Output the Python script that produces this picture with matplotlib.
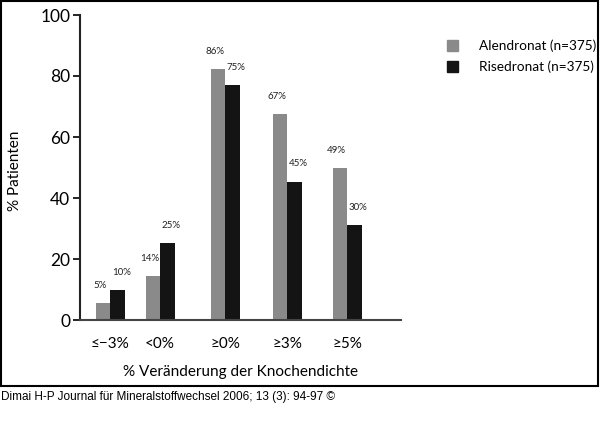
import matplotlib.pyplot as plt
from matplotlib.patches import Rectangle, Patch

# data
categories = ['≤−3%', '<0%', '≥0%', '≥3%', '≥5%']
alendronat = [5.5, 14.4, 82.2, 67.5, 49.8]
risedronat = [9.8, 25.1, 76.9, 45.3, 31.1]
alendronat_labels = ['5%', '14%', '86%', '67%', '49%']
risedronat_labels = ['10%', '25%', '75%', '45%', '30%']
series_names = ['Alendronat (n=375)', 'Risedronat (n=375)']

# layout: group centres (uneven, as in the original)
group_pos = [3.0, 8.0, 14.5, 20.7, 26.7]
width = 1.45
grey = '#8a8a8a'
black = '#141414'

plt.rcParams['font.family'] = ['Lato', 'DejaVu Sans']

fig = plt.figure(figsize=(6, 4.48), dpi=100)
ax = fig.add_axes([80/600, 1 - 320/448, 321/600, 305/448])

xa = [p - width/2 for p in group_pos]
xr = [p + width/2 for p in group_pos]
ax.bar(xa, alendronat, width, color=grey, linewidth=0)
ax.bar(xr, risedronat, width, color=black, linewidth=0)

for x, v, t in zip(xa, alendronat, alendronat_labels):
    ax.annotate(t, (x - 0.3, v), xytext=(0, 13), textcoords='offset points',
                ha='center', va='center', fontsize=7, color='#222222')
for x, v, t in zip(xr, risedronat, risedronat_labels):
    ax.annotate(t, (x + 0.4, v), xytext=(0, 13), textcoords='offset points',
                ha='center', va='center', fontsize=7, color='#222222')

ax.set_xlim(0, 32.1)
ax.set_ylim(0, 100)
ax.set_yticks([0, 20, 40, 60, 80, 100])
ax.set_xticks(group_pos)
ax.set_xticklabels(categories)
ax.tick_params(axis='x', length=0, pad=12, labelsize=11)
ax.tick_params(axis='y', length=5, width=1.2, pad=2, labelsize=12.5)
for s in ['top', 'right']:
    ax.spines[s].set_visible(False)
ax.spines['left'].set_linewidth(1.5)
ax.spines['bottom'].set_linewidth(1.5)
ax.spines['left'].set_color('#222222')
ax.spines['bottom'].set_color('#444444')

ax.set_ylabel('% Patienten', fontsize=11)
ax.yaxis.set_label_coords(-0.18, 0.49)
ax.set_xlabel('% Veränderung der Knochendichte', fontsize=11, labelpad=10)

handles = [Patch(color=grey), Patch(color=black)]
fig.legend(handles, series_names, loc='upper left', bbox_to_anchor=(440/600, 1 - 33/448),
           frameon=False, fontsize=9.8, handlelength=0.85, handleheight=0.85,
           handletextpad=1.5, labelspacing=0.6, borderpad=0)

# frame round the figure, and the source line beneath it
fig.add_artist(Rectangle((0.5/600, 1 - 386/448), 597.5/600, 385/448, transform=fig.transFigure,
                         fill=False, edgecolor='black', linewidth=1.5))
fig.text(1/600, 1 - 397/448, 'Dimai H-P Journal für Mineralstoffwechsel 2006; 13 (3): 94-97 ©',
         fontsize=8.5, family='Liberation Sans', va='center', ha='left')

fig.savefig('out.png', dpi=100)
